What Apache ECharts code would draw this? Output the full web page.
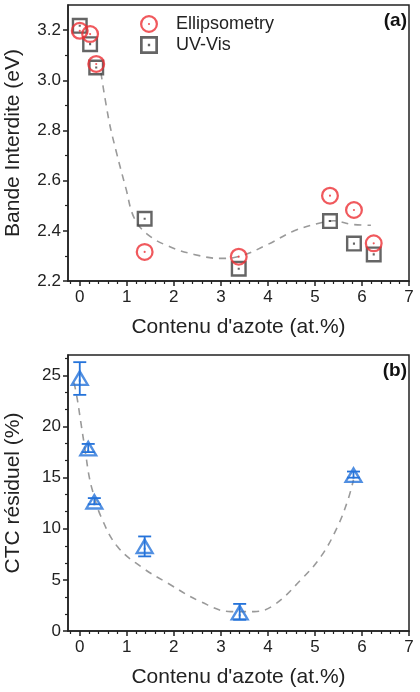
<!DOCTYPE html>
<html>
<head>
<meta charset="utf-8">
<script src="https://cdn.jsdelivr.net/npm/echarts@6/dist/echarts.min.js"></script>
<style>
  html, body { margin: 0; padding: 0; background: #fff; }
  #chart { width: 420px; height: 692px; }
</style>
</head>
<body>
<div id="chart"></div>
<script>
// (a) band gap vs nitrogen content
const xA = [0, 0.22, 0.35, 1.38, 3.38, 5.32, 5.83, 6.25];
const ellipsometry = [3.197, 3.184, 3.065, 2.316, 2.297, 2.54, 2.483, 2.35];
const uvVis = [3.217, 3.144, 3.051, 2.448, 2.249, 2.439, 2.349, 2.306];
const fitAX = [0.45, 0.62, 0.77, 0.98, 1.16, 1.44, 1.87, 2.43, 3.0, 3.43, 4.0, 4.56, 5.13, 5.4, 5.77, 6.19];
const fitAY = [3.03, 2.84, 2.72, 2.57, 2.45, 2.386, 2.34, 2.306, 2.29, 2.30, 2.346, 2.40, 2.432, 2.44, 2.426, 2.422];

// (b) residual CTC vs nitrogen content
const xB = [0, 0.18, 0.31, 1.38, 3.4, 5.82];
const ctc = [24.8, 17.9, 12.7, 8.35, 1.85, 15.3];
const ctcLow = [23.1, 17.5, 12.4, 7.3, 1.1, 15.0];
const ctcHigh = [26.3, 18.3, 13.0, 9.25, 2.65, 15.6];
const fitBX = [-0.12, -0.05, 0.02, 0.12, 0.2, 0.28, 0.45, 0.8, 1.3, 1.87, 2.57, 3.21, 3.71, 4.13, 4.7, 5.13, 5.48, 5.7, 5.82];
const fitBY = [24.3, 22.6, 20.5, 17.5, 15.1, 13.6, 11.2, 8.26, 6.3, 4.68, 2.87, 1.9, 1.9, 2.55, 5.0, 7.3, 10.2, 12.8, 14.8];

// ticks
const xTicks = [0, 1, 2, 3, 4, 5, 6, 7];
const xMinor = [-0.2, 0.2, 0.4, 0.6, 0.8, 1.2, 1.4, 1.6, 1.8, 2.2, 2.4, 2.6, 2.8, 3.2, 3.4, 3.6, 3.8,
  4.2, 4.4, 4.6, 4.8, 5.2, 5.4, 5.6, 5.8, 6.2, 6.4, 6.6, 6.8];
const yTicksA = [2.2, 2.4, 2.6, 2.8, 3.0, 3.2];
const yMinorA = [2.3, 2.5, 2.7, 2.9, 3.1];
const yTicksB = [0, 5, 10, 15, 20, 25];
const yMinorB = [1.667, 3.333, 6.667, 8.333, 11.667, 13.333, 16.667, 18.333, 21.667, 23.333, 26.667];

const RED = '#ec2f35';
const GREY = '#3f3f3f';
const BLUE = '#2573da';
const FONT = 'Liberation Sans';

// hollow markers with a centre dot (ring = outer + reversed inner)
const ringPath = 'path://M0,-10A10,10 0 1,1 0,10A10,10 0 1,1 0,-10Z' +
  'M0,-7.5A7.5,7.5 0 1,0 0,7.5A7.5,7.5 0 1,0 0,-7.5Z' +
  'M0,-1.2A1.2,1.2 0 1,1 0,1.2A1.2,1.2 0 1,1 0,-1.2Z';
const squarePath = 'path://M-10,-10L10,-10L10,10L-10,10Z' +
  'M-7,-7L-7,7L7,7L7,-7Z' +
  'M-1.3,-1.3L1.3,-1.3L1.3,1.3L-1.3,1.3Z';
const trianglePath = 'path://M0,-10L11,8L-11,8Z' +
  'M0,-4.6L-6.6,5.5L6.6,5.5Z' +
  'M-1.1,1.2L1.1,1.2L1.1,3.4L-1.1,3.4Z';

const zip = (xs, ys) => xs.map((x, i) => [x, ys[i]]);

function xAxisDef(gridIndex, withLabels) {
  return {
    type: 'value', gridIndex, min: -0.25, max: 7, position: 'bottom',
    name: withLabels ? "Contenu d'azote (at.%)" : '',
    nameLocation: 'middle', nameGap: 36,
    nameTextStyle: { fontFamily: FONT, fontSize: 21, color: '#222' },
    axisLine: { show: withLabels, onZero: false, lineStyle: { color: '#222', width: 1.5 } },
    axisTick: withLabels
      ? { show: true, inside: false, length: 5, customValues: xTicks, lineStyle: { color: '#222', width: 1.5 } }
      : { show: true, inside: false, length: 3, customValues: xMinor, lineStyle: { color: '#222', width: 1.2 } },
    axisLabel: withLabels
      ? { show: true, customValues: xTicks, margin: 8, fontFamily: FONT, fontSize: 17, color: '#222' }
      : { show: false },
    splitLine: { show: false }
  };
}

function yAxisDef(gridIndex, min, max, major, minor, name, withLabels) {
  return {
    type: 'value', gridIndex, min, max, position: 'left',
    name: withLabels ? name : '',
    nameLocation: 'middle', nameGap: 44,
    nameTextStyle: { fontFamily: FONT, fontSize: 21, color: '#222' },
    axisLine: { show: withLabels, onZero: false, lineStyle: { color: '#222', width: 1.5 } },
    axisTick: withLabels
      ? { show: true, inside: false, length: 5, customValues: major, lineStyle: { color: '#222', width: 1.5 } }
      : { show: true, inside: false, length: 3, customValues: minor, lineStyle: { color: '#222', width: 1.2 } },
    axisLabel: withLabels
      ? { show: true, customValues: major, margin: 7, fontFamily: FONT, fontSize: 17, color: '#222',
          formatter: v => (max < 5 ? v.toFixed(1) : String(v)) }
      : { show: false },
    splitLine: { show: false }
  };
}

const chart = echarts.init(document.getElementById('chart'));
chart.setOption({
  animation: false,
  backgroundColor: '#fff',
  grid: [
    { left: 68, top: 5, width: 341, height: 276, show: true, borderColor: '#222', borderWidth: 1.5,
      containLabel: false, outerBoundsMode: 'none' },
    { left: 68, top: 355, width: 341, height: 276, show: true, borderColor: '#222', borderWidth: 1.5,
      containLabel: false, outerBoundsMode: 'none' }
  ],
  xAxis: [xAxisDef(0, true), xAxisDef(0, false), xAxisDef(1, true), xAxisDef(1, false)],
  yAxis: [
    yAxisDef(0, 2.2, 3.3, yTicksA, yMinorA, 'Bande Interdite (eV)', true),
    yAxisDef(0, 2.2, 3.3, yTicksA, yMinorA, '', false),
    yAxisDef(1, 0, 27, yTicksB, yMinorB, 'CTC résiduel (%)', true),
    yAxisDef(1, 0, 27, yTicksB, yMinorB, '', false)
  ],
  legend: {
    left: 135, top: 10, orient: 'vertical',
    itemWidth: 44, itemHeight: 18, itemGap: 3,
    textStyle: { fontFamily: FONT, fontSize: 18, color: '#222' },
    data: [
      { name: 'Ellipsometry', icon: ringPath },
      { name: 'UV-Vis', icon: squarePath }
    ]
  },
  graphic: [
    { type: 'text', right: 13, top: 11, style: { text: '(a)', font: 'bold 19px "Liberation Sans"', fill: '#111' } },
    { type: 'text', right: 13, top: 361, style: { text: '(b)', font: 'bold 19px "Liberation Sans"', fill: '#111' } }
  ],
  series: [
    {
      name: 'fitA', type: 'line', xAxisIndex: 0, yAxisIndex: 0,
      data: zip(fitAX, fitAY), smooth: 0.4, showSymbol: false, symbol: 'none',
      lineStyle: { color: '#9a9a9a', width: 1.6, type: [7, 6] }, z: 1
    },
    {
      name: 'UV-Vis', type: 'scatter', xAxisIndex: 0, yAxisIndex: 0,
      data: zip(xA, uvVis), symbol: squarePath, symbolSize: 16,
      itemStyle: { color: GREY }, z: 3
    },
    {
      name: 'Ellipsometry', type: 'scatter', xAxisIndex: 0, yAxisIndex: 0,
      data: zip(xA, ellipsometry), symbol: ringPath, symbolSize: 18,
      itemStyle: { color: RED }, z: 4
    },
    {
      name: 'fitB', type: 'line', xAxisIndex: 2, yAxisIndex: 2,
      data: zip(fitBX, fitBY), smooth: 0.4, showSymbol: false, symbol: 'none',
      lineStyle: { color: '#9a9a9a', width: 1.6, type: [7, 6] }, z: 1
    },
    {
      name: 'errB', type: 'custom', xAxisIndex: 2, yAxisIndex: 2,
      data: xB.map((x, i) => [x, ctcLow[i], ctcHigh[i]]),
      renderItem: (params, api) => {
        const lo = api.coord([api.value(0), api.value(1)]);
        const hi = api.coord([api.value(0), api.value(2)]);
        const w = 6.5;
        const style = { stroke: BLUE, lineWidth: 1.8 };
        return {
          type: 'group',
          children: [
            { type: 'line', shape: { x1: lo[0], y1: lo[1], x2: hi[0], y2: hi[1] }, style },
            { type: 'line', shape: { x1: lo[0] - w, y1: lo[1], x2: lo[0] + w, y2: lo[1] }, style },
            { type: 'line', shape: { x1: hi[0] - w, y1: hi[1], x2: hi[0] + w, y2: hi[1] }, style }
          ]
        };
      },
      z: 2
    },
    {
      name: 'CTC', type: 'scatter', xAxisIndex: 2, yAxisIndex: 2,
      data: zip(xB, ctc), symbol: trianglePath, symbolSize: [20, 17],
      itemStyle: { color: BLUE }, z: 3
    }
  ]
});
</script>
</body>
</html>
